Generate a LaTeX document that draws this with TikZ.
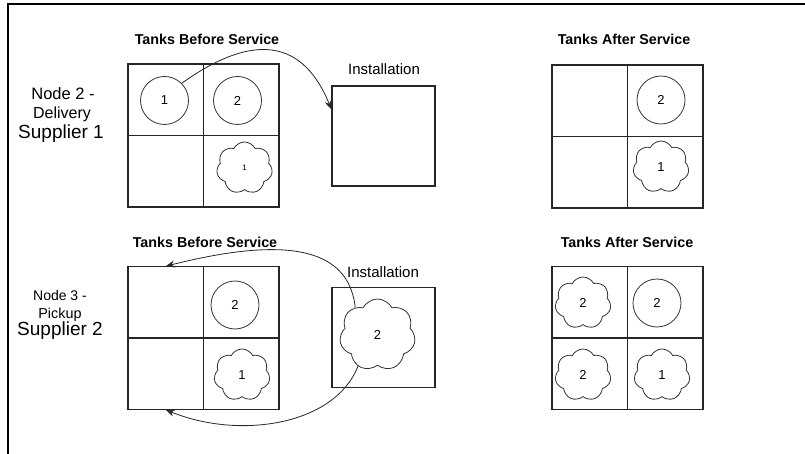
\documentclass[tikz,border=0pt]{standalone}
\usepackage{fontspec}
\setmainfont{Liberation Sans}
\usetikzlibrary{shapes.symbols,arrows.meta}
\begin{document}
\begin{tikzpicture}[x=1pt,y=-1pt,
  cell/.style={draw=black!85,line width=1.1pt,minimum width=75.5pt,minimum height=71.5pt,inner sep=0pt},
  instbox/.style={draw=black!85,line width=1.1pt,minimum width=103pt,minimum height=100pt,inner sep=0pt},
  tankc/.style={circle,draw=black!80,line width=0.8pt,minimum size=48pt,inner sep=0pt,font=\fontsize{13}{15}\selectfont},
  tanks/.style={cloud,cloud puffs=7,cloud puff arc=125,aspect=1.1,draw=black!80,line width=0.8pt,minimum width=56pt,minimum height=52pt,inner sep=0pt,font=\fontsize{13}{15}\selectfont},
  ttl/.style={anchor=base,font=\bfseries\fontsize{14.3}{16}\selectfont},
  inst/.style={anchor=base,font=\fontsize{15}{17}\selectfont},
  side/.style={anchor=base,font=\fontsize{#1}{#1}\selectfont},
  flow/.style={-{Stealth[length=9pt,width=7pt]},line width=0.8pt,draw=black!85},
]
\useasboundingbox (0,0) rectangle (805,454);
% frame
\draw[line width=2pt] (7.5,454) -- (7.5,4.5) -- (805,4.5);

% ---------- Node 2: delivery ----------
\node[side=16.5] (n2a) at (63,100) {Node 2 -};
\node[side=16] (n2b) at (62,119) {Delivery};
\node[side=19] (n2c) at (61,138.5) {Supplier 1};

\node[ttl] (t1) at (207,45) {Tanks Before Service};
\node[cell] (a1) at (165.75,99.75) {};
\node[cell] (a2) at (241.25,99.75) {};
\node[cell] (a3) at (165.75,171.25) {};
\node[cell] (a4) at (241.25,171.25) {};
\node[tankc] (c1) at (164.5,100.5) {1};
\node[tankc] (c2) at (237.5,100.5) {2};
\node[tanks,font=\fontsize{8}{9}\selectfont] (s1) at (244.5,168) {1};

\node[inst] (i1lbl) at (384,75) {Installation};
\node[instbox] (i1) at (383.5,136) {};

\node[ttl] (t2) at (624,45) {Tanks After Service};
\node[cell] (b1) at (589.75,100.75) {};
\node[cell] (b2) at (665.25,100.75) {};
\node[cell] (b3) at (589.75,172.25) {};
\node[cell] (b4) at (665.25,172.25) {};
\node[tankc] (d2) at (661,100) {2};
\node[tanks] (e1) at (661,167) {1};

\draw[flow] (c1.45) .. controls (245,38) and (300,32) .. (i1.153);

% ---------- Node 3: pickup ----------
\node[side=14] (n3a) at (60,300.5) {Node 3 -};
\node[side=14.4] (n3b) at (60,318) {Pickup};
\node[side=19] (n3c) at (60,335.5) {Supplier 2};

\node[ttl] (t3) at (205,247.5) {Tanks Before Service};
\node[cell] (p1) at (165.75,302.5) {};
\node[cell] (p2) at (241.25,302.5) {};
\node[cell] (p3) at (165.75,373.5) {};
\node[cell] (p4) at (241.25,373.5) {};
\node[tankc] (q2) at (235,305) {2};
\node[tanks] (r1) at (242,375) {1};

\node[inst] (i2lbl) at (383,277) {Installation};
\node[instbox] (i2) at (383.5,337.5) {};
\node[tanks,minimum width=76pt,minimum height=72pt] (big) at (377.5,335) {2};

\node[ttl] (t4) at (627,247.5) {Tanks After Service};
\node[cell] (u1) at (589.75,302.5) {};
\node[cell] (u2) at (665.25,302.5) {};
\node[cell] (u3) at (589.75,373.5) {};
\node[cell] (u4) at (665.25,373.5) {};
\node[tanks] (v1) at (583,303) {2};
\node[tankc] (v2) at (657,303) {2};
\node[tanks] (v3) at (583,375) {2};
\node[tanks] (v4) at (662,375) {1};

\draw[flow] (big.129) .. controls (348,240) and (270,240) .. (p1.north);
\draw[flow] (big.238) .. controls (335,425) and (240,440) .. (p3.south);
\end{tikzpicture}
\end{document}
